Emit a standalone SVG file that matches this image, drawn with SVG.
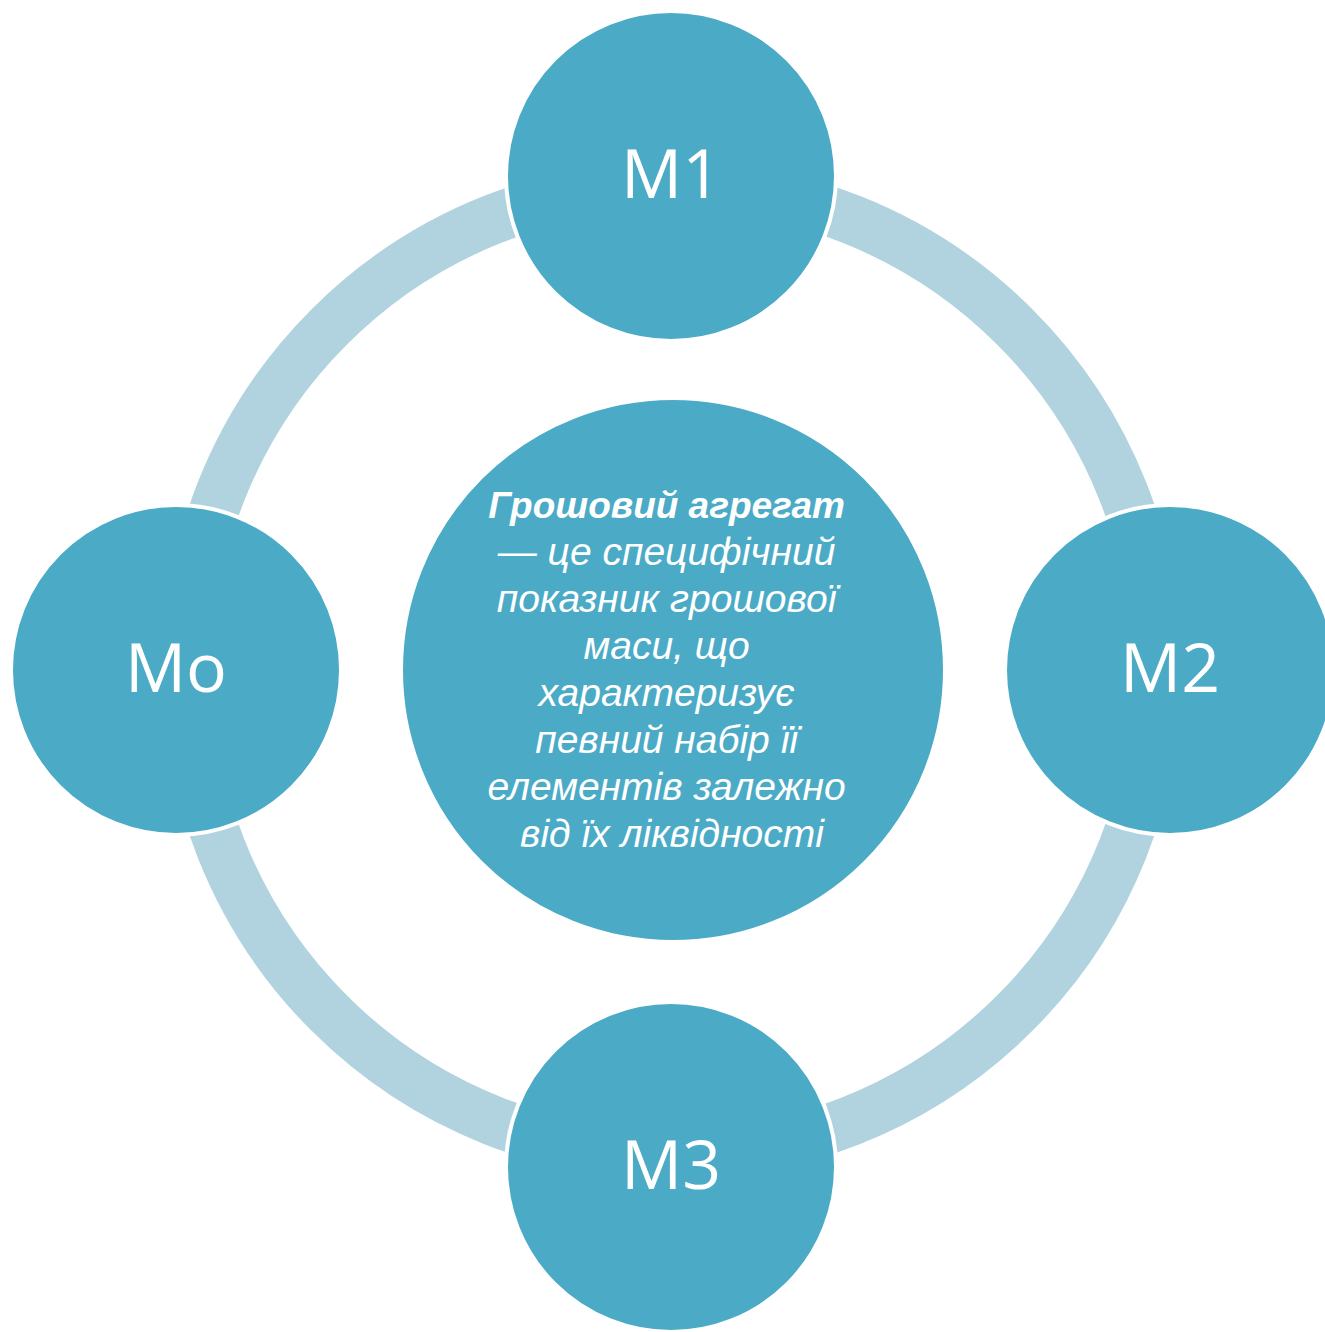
<svg xmlns="http://www.w3.org/2000/svg" width="1325" height="1332" viewBox="0 0 1325 1332">
<style>
.node{fill:#4BABC6;stroke:#FFFFFF;stroke-width:4}
.lbl{font-family:"Open Sans","Noto Sans",sans-serif;font-size:68px;fill:#FFFFFF;text-anchor:middle}
.ctr{font-family:"Liberation Sans",Arial,sans-serif;font-size:39px;font-style:italic;fill:#FFFFFF;text-anchor:middle}
</style>
<rect width="1325" height="1332" fill="#FFFFFF"/>
<g id="connectors">
<circle cx="672" cy="670" r="485" fill="none" stroke="#B1D3DF" stroke-width="50"/>
</g>
<g id="center">
<circle class="node" cx="673" cy="670" r="272"/>
<text class="ctr">
<tspan x="672" y="518" font-weight="bold" font-size="37">Грошовий  агрегат</tspan>
<tspan x="672" y="565">— це специфічний</tspan>
<tspan x="672" y="612">показник грошової</tspan>
<tspan x="672" y="659">маси, що</tspan>
<tspan x="672" y="706">характеризує</tspan>
<tspan x="672" y="753">певний набір її</tspan>
<tspan x="672" y="800">елементів залежно</tspan>
<tspan x="672" y="847">від їх ліквідності</tspan>
</text>
</g>
<g id="m1">
<circle class="node" cx="671" cy="176" r="165"/>
<text class="lbl" x="671" y="198">M1</text>
</g>
<g id="m2">
<circle class="node" cx="1170" cy="670" r="165"/>
<text class="lbl" x="1170" y="692">M2</text>
</g>
<g id="m3">
<circle class="node" cx="671" cy="1167" r="165"/>
<text class="lbl" x="671" y="1189">M3</text>
</g>
<g id="mo">
<circle class="node" cx="176" cy="670" r="165"/>
<text class="lbl" x="176" y="692">Mo</text>
</g>
</svg>
